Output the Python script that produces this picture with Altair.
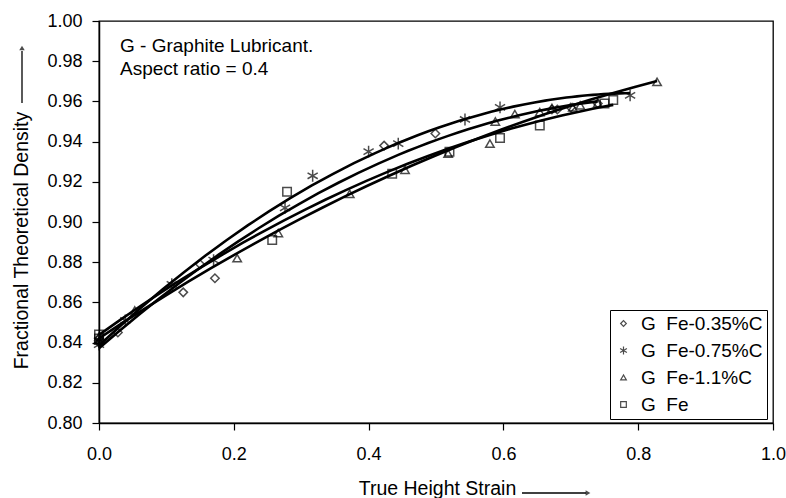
import altair as alt
import pandas as pd

# Series names (legend order) and marker shapes
series_names = ["G\u00a0\u00a0Fe-0.35%C", "G\u00a0\u00a0Fe-0.75%C", "G\u00a0\u00a0Fe-1.1%C", "G\u00a0\u00a0Fe"]
asterisk = "M0,-1.4L0,1.4M-1.2,-0.7L1.2,0.7M-1.2,0.7L1.2,-0.7"
shapes = ["diamond", asterisk, "triangle-up", "square"]

# Measured points: true height strain vs fractional theoretical density
strain_035 = [0.0, 0.0, 0.028, 0.125, 0.150, 0.172, 0.423, 0.499, 0.672, 0.680, 0.700, 0.740]
density_035 = [0.840, 0.842, 0.845, 0.865, 0.879, 0.872, 0.938, 0.944, 0.956, 0.956, 0.957, 0.959]

strain_075 = [0.0, 0.0, 0.039, 0.108, 0.170, 0.276, 0.317, 0.400, 0.444, 0.543, 0.595, 0.788]
density_075 = [0.839, 0.841, 0.851, 0.869, 0.881, 0.907, 0.923, 0.935, 0.939, 0.951, 0.957, 0.963]

strain_11 = [0.0, 0.0, 0.053, 0.205, 0.266, 0.372, 0.454, 0.518, 0.580, 0.588, 0.617, 0.654,
             0.672, 0.703, 0.714, 0.740, 0.828]
density_11 = [0.841, 0.843, 0.856, 0.882, 0.8945, 0.914, 0.926, 0.934, 0.939, 0.950, 0.9537,
              0.9547, 0.9567, 0.957, 0.958, 0.959, 0.9697]

strain_fe = [0.0, 0.0, 0.257, 0.279, 0.435, 0.520, 0.595, 0.654, 0.750, 0.763]
density_fe = [0.842, 0.844, 0.891, 0.915, 0.924, 0.935, 0.9418, 0.948, 0.959, 0.9607]

# Axis ticks
x_ticks = [0.0, 0.2, 0.4, 0.6, 0.8, 1.0]
y_ticks = [0.80, 0.82, 0.84, 0.86, 0.88, 0.90, 0.92, 0.94, 0.96, 0.98, 1.00]

note_lines = ["G - Graphite Lubricant.", "Aspect ratio = 0.4"]

rows = []
for name, xs, ys in [
    (series_names[0], strain_035, density_035),
    (series_names[1], strain_075, density_075),
    (series_names[2], strain_11, density_11),
    (series_names[3], strain_fe, density_fe),
]:
    for xv, yv in zip(xs, ys):
        rows.append({"strain": xv, "density": yv, "series": name})
df = pd.DataFrame(rows)

FONT = "Liberation Sans"

x_enc = alt.X(
    "strain:Q",
    scale=alt.Scale(domain=[0, 1], nice=False),
    axis=alt.Axis(
        values=x_ticks, format=".1f", title="True Height Strain", labelFlush=False,
        titleX=338, titleY=71, titleBaseline="alphabetic", labelPadding=15,
    ),
)
y_enc = alt.Y(
    "density:Q",
    scale=alt.Scale(domain=[0.80, 1.00], nice=False, zero=False),
    axis=alt.Axis(
        values=y_ticks, format=".2f", title="Fractional Theoretical Density", labelFlush=False,
        titleX=-78, titleY=219, titleAngle=270, titleBaseline="middle", labelPadding=10,
    ),
)

base = alt.Chart(df)

# Second-order polynomial trend line for each series
trends = base.transform_regression(
    "strain", "density", method="poly", order=2, groupby=["series"]
).mark_line(color="black", strokeWidth=2.6).encode(
    x=x_enc, y=y_enc, detail="series:N"
)

points = base.mark_point(filled=False, color="black", strokeWidth=1.5, size=72).encode(
    x="strain:Q",
    y="density:Q",
    shape=alt.Shape(
        "series:N",
        scale=alt.Scale(domain=series_names, range=shapes),
        legend=alt.Legend(title=None),
    ),
)

one = pd.DataFrame({"k": [0]})


def note_text(line, ypix):
    return alt.Chart(one).mark_text(
        align="left", baseline="alphabetic", font=FONT, fontSize=19, color="black", text=line
    ).encode(x=alt.value(21), y=alt.value(ypix))


note1 = note_text(note_lines[0], 31)
note2 = note_text(note_lines[1], 54)

# Arrow beside the y-axis title
y_arrow = alt.Chart(one).mark_rule(color="black", strokeWidth=1.3).encode(
    x=alt.value(-77), y=alt.value(82), y2=alt.value(30)
)
y_head = alt.Chart(one).mark_point(shape="triangle-up", filled=True, color="black", size=30).encode(
    x=alt.value(-77), y=alt.value(27)
)
# Arrow after the x-axis title
x_arrow = alt.Chart(one).mark_rule(color="black", strokeWidth=1.3).encode(
    x=alt.value(423), x2=alt.value(487), y=alt.value(472)
)
x_head = alt.Chart(one).mark_point(shape="triangle-right", filled=True, color="black", size=30).encode(
    x=alt.value(489), y=alt.value(472)
)

chart = (
    alt.layer(trends, points, note1, note2, y_arrow, y_head, x_arrow, x_head)
    .properties(
        width=674, height=402,
        autosize=alt.AutoSizeParams(type="none"),
        padding={"left": 99, "top": 21, "right": 13, "bottom": 75},
        background="white",
    )
    .configure_view(stroke="black", strokeWidth=1.3)
    .configure_axis(
        grid=False, domainColor="black", domainWidth=1.5, tickColor="black",
        tickSize=7, tickWidth=1.2, labelFont=FONT, labelFontSize=18, labelColor="black",
        titleFont=FONT, titleFontSize=19.5, titleFontWeight="normal", titleColor="black",
    )
    .configure_legend(
        orient="none", legendX=511, legendY=289, strokeColor="black", fillColor="white",
        padding=4, labelFont=FONT, labelFontSize=19, labelColor="black", rowPadding=7,
        symbolSize=32, symbolStrokeWidth=1.2, symbolStrokeColor="black",
        symbolFillColor="white", labelOffset=8,
    )
)

chart.save("out.html", embed_options={"renderer": "svg", "actions": False})
